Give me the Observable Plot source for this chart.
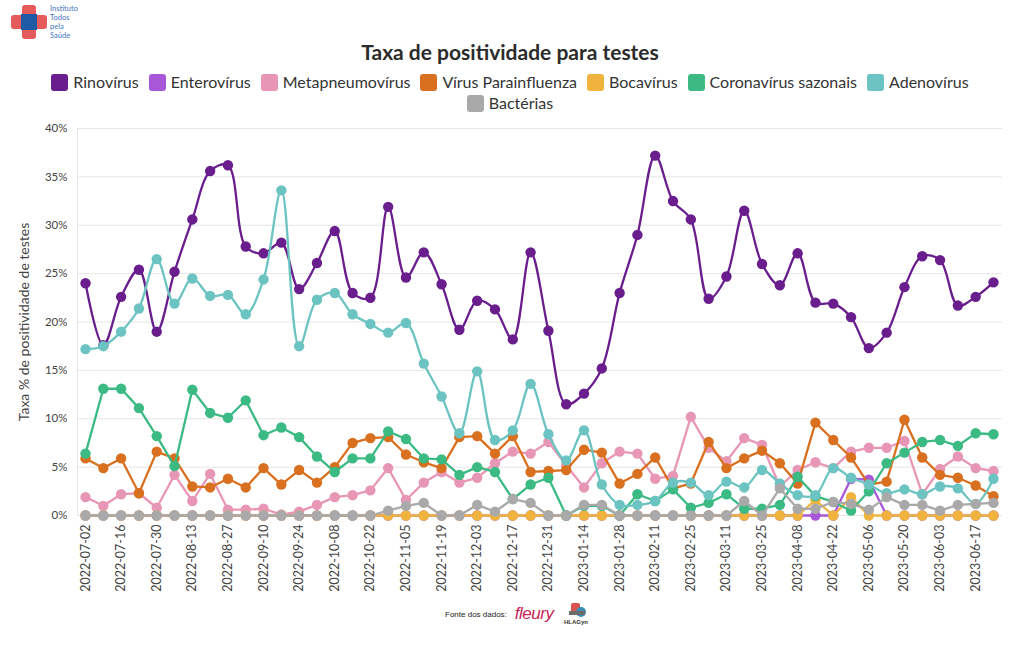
<!DOCTYPE html>
<html><head><meta charset="utf-8">
<script src="https://cdn.jsdelivr.net/npm/d3@7"></script>
<script src="https://cdn.jsdelivr.net/npm/@observablehq/plot@0.6"></script>
<style>
body{margin:0;background:#fff;font-family:"Source Sans Pro",Lato,"Open Sans",sans-serif;}
#wrap{position:relative;width:1020px;height:650px;overflow:hidden;background:#fff}
#title{position:absolute;left:0;top:39px;width:1020px;text-align:center;font-size:21px;font-weight:bold;color:#2b2b2b;line-height:26px}
.lrow{position:absolute;left:0;width:1020px;display:flex;justify-content:center;align-items:center;font-size:16px;color:#333;line-height:20px}
.item{display:flex;align-items:center;margin:0 5px}
.sw{width:17px;height:17px;border-radius:3px;margin-right:5px}
#chart{position:absolute;left:0;top:115px}
#logo{position:absolute;left:6px;top:3px}
#cap{position:absolute;left:445px;top:600px;height:28px;display:flex;align-items:center}
</style></head><body><div id="wrap">
<svg id="logo" width="80" height="40">
  <rect x="5" y="12" width="36" height="14" rx="3" fill="#e55a5a"/>
  <rect x="16" y="2" width="14" height="34" rx="3" fill="#e55a5a"/>
  <rect x="15" y="11" width="16" height="16" fill="#1e5aa6"/>
  <text x="44" y="8" font-size="7.5" fill="#3f74bf" font-family="Lato">Instituto</text>
  <text x="44" y="17" font-size="7.5" fill="#3f74bf" font-family="Lato">Todos</text>
  <text x="44" y="26" font-size="7.5" fill="#3f74bf" font-family="Lato">pela</text>
  <text x="44" y="35" font-size="7.5" fill="#3f74bf" font-family="Lato">Saúde</text>
</svg>
<div id="title">Taxa de positividade para testes</div>
<div class="lrow" id="leg1" style="top:72px"></div>
<div class="lrow" id="leg2" style="top:93px"></div>
<div id="chart"></div>
<div id="cap">
  <span style="font-size:8px;color:#222;font-family:'Liberation Sans',Arial,sans-serif">Fonte dos dados:</span>
  <span style="font-size:17px;font-style:italic;color:#c8245a;font-family:'Liberation Sans',Arial,sans-serif;margin-left:8px;letter-spacing:-0.5px">fleury</span>
  <svg width="32" height="26" style="margin-left:8px">
    <rect x="10" y="2" width="9" height="12" rx="2" fill="#d9534f"/>
    <circle cx="20" cy="11" r="5" fill="#3a8fb7"/>
    <rect x="8" y="10" width="16" height="4" fill="#6a6a6a"/>
    <text x="3" y="23" font-size="6" font-weight="bold" fill="#333" font-family="Liberation Sans">HLAGyn</text>
  </svg>
</div>
</div>
<script>
const dates = ["2022-07-02","2022-07-09","2022-07-16","2022-07-23","2022-07-30","2022-08-06","2022-08-13","2022-08-20","2022-08-27","2022-09-03","2022-09-10","2022-09-17","2022-09-24","2022-10-01","2022-10-08","2022-10-15","2022-10-22","2022-10-29","2022-11-05","2022-11-12","2022-11-19","2022-11-26","2022-12-03","2022-12-10","2022-12-17","2022-12-24","2022-12-31","2023-01-07","2023-01-14","2023-01-21","2023-01-28","2023-02-04","2023-02-11","2023-02-18","2023-02-25","2023-03-04","2023-03-11","2023-03-18","2023-03-25","2023-04-01","2023-04-08","2023-04-15","2023-04-22","2023-04-29","2023-05-06","2023-05-13","2023-05-20","2023-05-27","2023-06-03","2023-06-10","2023-06-17","2023-06-24"];

const xTickLabels = ["2022-07-02","2022-07-16","2022-07-30","2022-08-13","2022-08-27","2022-09-10","2022-09-24","2022-10-08","2022-10-22","2022-11-05","2022-11-19","2022-12-03","2022-12-17","2022-12-31","2023-01-14","2023-01-28","2023-02-11","2023-02-25","2023-03-11","2023-03-25","2023-04-08","2023-04-22","2023-05-06","2023-05-20","2023-06-03","2023-06-17"];
const yTicks = [0,5,10,15,20,25,30,35,40];

const seriesNames = ["Rinovírus","Enterovírus","Metapneumovírus","Vírus Parainfluenza","Bocavírus","Coronavírus sazonais","Adenovírus","Bactérias"];
const seriesColors = ["#6a1d8c","#a957d9","#e797b5","#d9701f","#f0b43e","#3cba84","#6cc4c2","#a9a9a9"];
const seriesCurves = ["catmull-rom","linear","linear","linear","linear","linear","catmull-rom","linear"];

const rinovirus = [24.0,17.6,22.6,25.4,19.0,25.2,30.6,35.6,36.2,27.8,27.1,28.2,23.4,26.1,29.4,23.0,22.5,31.9,24.6,27.2,23.9,19.2,22.2,21.3,18.2,27.2,19.1,11.5,12.6,15.2,23.0,29.0,37.2,32.5,30.6,22.4,24.7,31.5,26.0,23.8,27.1,22.0,21.9,20.5,17.3,18.9,23.6,26.8,26.4,21.7,22.6,24.1];
const enterovirus = [0,0,0,0,0,0,0,0,0,0,0,0,0,0,0,0,0,0,0,0,0,0,0,0,0,0,0,0,0,0,0,0,0,0,0,0,0,0,0,0,0,0,0,3.8,3.7,0,0,0,0,0,0,0];
const metapneumovirus = [1.9,1.0,2.2,2.3,0.8,4.2,1.5,4.3,0.6,0.6,0.7,0.1,0.4,1.1,1.9,2.1,2.6,4.9,1.6,3.4,4.5,3.4,3.9,5.4,6.6,6.4,7.6,5.2,2.9,5.4,6.6,6.4,3.8,4.1,10.2,7.0,5.6,8.0,7.3,3.0,4.7,5.5,4.9,6.6,7.0,7.0,7.7,2.2,4.8,6.1,4.9,4.6];
const parainfluenza = [5.9,4.9,5.9,2.3,6.6,5.9,3.0,2.9,3.8,2.9,4.9,3.2,4.7,3.4,5.0,7.5,8.0,8.1,6.3,5.5,4.9,8.1,8.2,6.4,8.2,4.5,4.6,4.7,6.8,6.5,3.3,4.3,6.0,2.8,3.3,7.6,4.9,5.9,6.7,5.4,3.3,9.6,7.8,6.0,3.2,3.5,9.9,6.0,4.2,3.9,3.1,2.0];
const bocavirus = [0,0,0,0,0,0,0,0,0,0,0,0,0,0,0,0,0,0,0,0,0,0,0,0,0,0,0,0,0,0,0,0,0,0,0,0,0,0,0,0,0,1.6,0,1.9,0,0,0,0,0,0,0,0];
const coronavirus = [6.4,13.1,13.1,11.1,8.2,5.1,13.0,10.6,10.1,11.9,8.3,9.1,8.1,6.1,4.5,5.9,5.9,8.7,7.9,5.9,5.8,4.2,5.0,4.5,1.7,3.2,3.9,0.0,1.0,1.0,0.0,2.2,1.5,2.7,0.8,1.3,2.2,0.7,0.7,1.1,4.0,2.0,1.4,0.5,2.5,5.4,6.5,7.6,7.8,7.2,8.5,8.4];
const adenovirus = [17.2,17.5,19.0,21.4,26.5,21.9,24.5,22.7,22.8,20.8,24.4,33.6,17.5,22.3,23.0,20.8,19.8,18.9,19.9,15.7,12.3,8.5,14.9,7.8,8.8,13.6,8.4,5.7,8.8,3.2,1.1,1.1,1.5,3.4,3.4,2.1,3.5,2.9,4.7,3.3,2.1,2.1,4.9,3.9,3.2,2.3,2.7,2.2,3.0,2.8,1.2,3.8];
const bacterias = [0,0,0,0,0,0,0,0,0,0,0,0,0,0,0,0,0,0.5,1.0,1.3,0,0,1.1,0.4,1.7,1.3,0,0,1.1,1.1,0,0,0,0,0,0,0,1.5,0,2.8,0.7,0.7,1.4,1.2,0.6,1.9,1.1,1.1,0.5,1.1,1.2,1.3];

const seriesValues = [rinovirus,enterovirus,metapneumovirus,parainfluenza,bocavirus,coronavirus,adenovirus,bacterias];

const parse = d3.utcParse("%Y-%m-%d");
const fmt = d3.utcFormat("%Y-%m-%d");

// legend
const leg1 = document.getElementById("leg1"), leg2 = document.getElementById("leg2");
seriesNames.forEach((n,i)=>{
  const it = document.createElement("div"); it.className="item";
  it.innerHTML = `<div class="sw" style="background:${seriesColors[i]}"></div><span>${n}</span>`;
  (i < 7 ? leg1 : leg2).appendChild(it);
});

const xStart = new Date(Date.UTC(2022,5,28,20,24));
const marks = [
  Plot.gridY(yTicks, {stroke:"#e6e6e6", strokeOpacity:1}),
  Plot.ruleX([xStart], {stroke:"#e6e6e6"}),
  Plot.axisY(yTicks, {tickSize:0, tickPadding:10, tickFormat:d=>d+"%", fontSize:11.5, fill:"#444", label:"Taxa % de positividade de testes", labelAnchor:"center", labelArrow:"none", labelOffset:58}),
  Plot.axisX(xTickLabels.map(parse), {tickSize:0, tickPadding:9, tickFormat:fmt, tickRotate:-90, fontSize:12.5, fill:"#444", label:null})
];
seriesNames.forEach((name,s)=>{
  const rows = dates.map((d,i)=>({date: parse(d), value: seriesValues[s][i]}));
  marks.push(Plot.line(rows, {x:"date", y:"value", stroke:seriesColors[s], strokeWidth:2.3, curve:seriesCurves[s]}));
  marks.push(Plot.dot(rows, {x:"date", y:"value", fill:seriesColors[s], r:5.2}));
});

const chart = Plot.plot({
  width:1020, height:480,
  marginTop:13, marginBottom:80, marginLeft:77, marginRight:18,
  style:{fontFamily:'"Source Sans Pro",Lato,"Open Sans",sans-serif', background:"transparent", overflow:"visible"},
  x:{type:"utc", domain:[xStart, new Date(Date.UTC(2023,5,27,13,10))]},
  y:{domain:[0,40]},
  marks
});
document.getElementById("chart").appendChild(chart);
chart.querySelectorAll('[aria-label="y-axis label"] text').forEach(t=>{t.style.fontSize="14px";});
</script>
</body></html>
